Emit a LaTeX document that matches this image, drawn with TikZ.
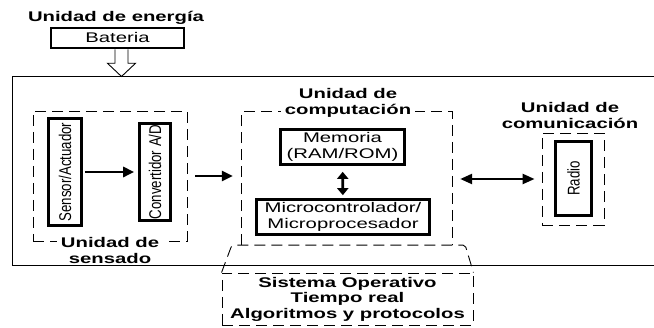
\documentclass[tikz,border=0pt]{standalone}
\usepackage{fontspec}
\setmainfont{Liberation Sans}[FakeStretch=1.45]
\newfontfamily\rotfont{Liberation Sans}[FakeStretch=0.78]
\usetikzlibrary{arrows.meta,positioning,calc}

\begin{document}
\begin{tikzpicture}[x=1pt, y=-1pt,
    every node/.style={font=\fontsize{14}{15.5}\selectfont},
    block/.style={draw, line width=2.6pt, inner sep=0pt, align=center},
    vblock/.style={block, rotate=90, font=\rotfont\fontsize{17}{18}\selectfont},
    dbox/.style={draw, line width=0.9pt, dash pattern=on 11pt off 6pt},
    title/.style={font=\fontsize{14}{15.5}\selectfont\bfseries, align=center, inner xsep=4pt, inner ysep=1pt},
    arr/.style={line width=2.6pt, -{Triangle[length=11pt,width=10pt]}},
    darr/.style={line width=2.4pt, {Triangle[length=12pt,width=10pt]}-{Triangle[length=12pt,width=10pt]}},
    varr/.style={line width=2.6pt, {Triangle[length=7pt,width=11pt]}-{Triangle[length=7pt,width=11pt]}}]
    \useasboundingbox (0,0) rectangle (654,328);

    % Nodo sensor (caja exterior)
    \node[draw, line width=1pt, minimum width=658pt, minimum height=189pt, inner sep=0pt] (sys) at (341,171.5) {};

    % Unidad de energia
    \node[title, anchor=base] (etit) at (116,22) {Unidad de energía};
    \node[block, minimum width=133pt, minimum height=20pt] (bat) at (117.5,38) {Bateria};
    \coordinate (hs) at ([xshift=4pt]bat.south);
    \draw[line width=0.9pt] ([xshift=-6.5pt]hs) -- ++(0,14) -- ++(-7.5,0) -- (hs |- sys.north) -- ++(14,-13.2) -- ++(-7.5,0) -- ([xshift=6.5pt]hs);

    % Unidad de sensado
    \node[dbox, minimum width=154pt, minimum height=130pt] (sens) at (110,176) {};
    \node[vblock, minimum width=107pt, minimum height=33pt] (sen) at (65,172) {Sensor/Actuador};
    \node[vblock, minimum width=97pt, minimum height=31pt] (conv) at (155,172) {Convertidor A/D};
    \node[title, fill=white] (senslbl) at (110,250.6) {Unidad de\\sensado};

    % Unidad de computacion
    \node[minimum width=210pt, minimum height=133pt, inner sep=0pt] (comp) at (347,178.5) {};
    \draw[dbox] (comp.south west) -- (comp.north west) -- (comp.north east) -- (comp.south east);
    \node[title, fill=white] (complbl) at (348,103) {Unidad de\\computación};
    \node[block, minimum width=124pt, minimum height=35pt] (mem) at (342.5,147) {Memoria\\(RAM/ROM)};
    \node[block, minimum width=173pt, minimum height=35pt] (micro) at (343,217) {Microcontrolador/\\Microprocesador};

    % Unidad de comunicacion
    \node[dbox, minimum width=62pt, minimum height=92pt] (comm) at (573,179) {};
    \node[vblock, minimum width=74pt, minimum height=36pt] (radio) at (573.5,178.5) {Radio};
    \node[title] (commlbl) at (570,115.6) {Unidad de\\comunicación};

    % Sistema operativo
    \node[dbox, minimum width=251pt, minimum height=52pt, align=center, font=\fontsize{14}{15.5}\selectfont\bfseries] (so) at (347.5,299) {Sistema Operativo\\Tiempo real\\Algoritmos y protocolos};
    \draw[dbox, rounded corners=2pt] (so.north west) -- ([xshift=-10pt]comp.south west) -- ([xshift=13pt]comp.south east) -- (so.north east);

    % Flechas
    \draw[arr, shorten <=2pt, shorten >=4pt] (sen) -- (conv);
    \draw[arr, shorten <=8pt, shorten >=9pt] (sens.east) -- (sens.east -| comp.west);
    \draw[varr, shorten <=6pt, shorten >=3pt] (mem) -- (micro);
    \draw[darr, shorten <=8pt, shorten >=7pt] (comm.west -| comp.east) -- (comm.west);
\end{tikzpicture}
\end{document}
